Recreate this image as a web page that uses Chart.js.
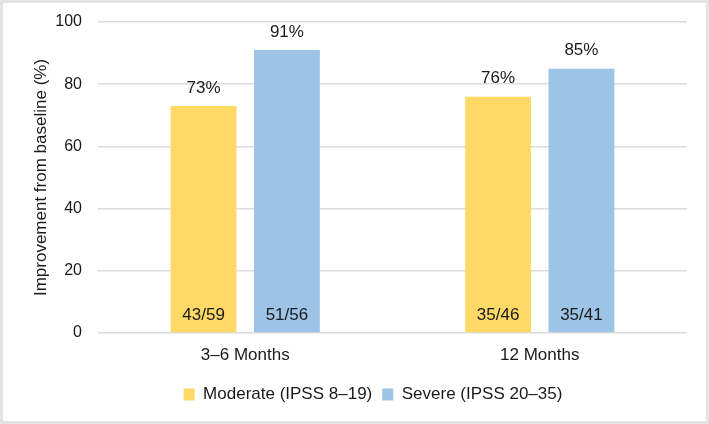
<!DOCTYPE html>
<html>
<head>
<meta charset="utf-8">
<script src="https://cdn.jsdelivr.net/npm/chart.js@4.4.0/dist/chart.umd.min.js"></script>
<style>
  html, body { margin: 0; padding: 0; background: #fff; }
  #wrap { width: 709px; height: 424px; box-sizing: border-box; border: 3px solid #e3e3e3; background: #fff; }
  #chart { display: block; }
</style>
</head>
<body>
<div id="wrap"><canvas id="chart" width="703" height="418"></canvas></div>
<script>
// data
const categories = ['3\u20136 Months', '12 Months'];
const moderateValues = [73, 76];
const severeValues = [91, 85];
const moderateCounts = ['43/59', '35/46'];
const severeCounts = ['51/56', '35/41'];
const yTicks = [0, 20, 40, 60, 80, 100];

const FONT = '"Liberation Sans", Arial, sans-serif';
const TEXT = '#1a1a1a';

// percentage above each bar, n/N at the bottom inside
const barLabels = {
  id: 'barLabels',
  afterDatasetsDraw(chart) {
    const ctx = chart.ctx;
    ctx.save();
    ctx.font = '17px ' + FONT;
    ctx.fillStyle = TEXT;
    ctx.textAlign = 'center';
    ctx.textBaseline = 'middle';
    chart.data.datasets.forEach((ds, di) => {
      chart.getDatasetMeta(di).data.forEach((bar, i) => {
        ctx.fillText(ds.data[i] + '%', bar.x, bar.y - 18);
        ctx.fillText(ds.counts[i], bar.x, bar.base - 17);
      });
    });
    ctx.restore();
  }
};

// legend in the original sits a bit right of the canvas centre
const legendShift = {
  id: 'legendShift',
  afterLayout(chart) {
    chart.legend.left += 28;
    chart.legend.right += 28;
  }
};

new Chart(document.getElementById('chart'), {
  type: 'bar',
  data: {
    labels: categories,
    datasets: [
      { label: 'Moderate (IPSS 8\u201319)', data: moderateValues, counts: moderateCounts, backgroundColor: '#ffd966' },
      { label: 'Severe (IPSS 20\u201335)', data: severeValues, counts: severeCounts, backgroundColor: '#9dc3e6' }
    ]
  },
  options: {
    responsive: false,
    animation: false,
    categoryPercentage: 0.566,
    barPercentage: 0.79,
    layout: { padding: { left: 0, right: 19, top: 19, bottom: 8 } },
    plugins: {
      legend: {
        position: 'bottom',
        labels: { boxWidth: 11, boxHeight: 12, padding: 10, color: TEXT, font: { family: FONT, size: 17 } }
      },
      tooltip: { enabled: false }
    },
    scales: {
      x: {
        grid: { display: false, drawTicks: false },
        border: { display: false },
        ticks: { color: TEXT, padding: 12, font: { family: FONT, size: 17 } },
        afterFit(s) { s.height = 43; }
      },
      y: {
        min: 0, max: 100,
        afterBuildTicks(s) { s.ticks = yTicks.map(v => ({ value: v })); },
        grid: { color: '#dcdcdc', lineWidth: 1.5, drawTicks: false },
        border: { display: false },
        ticks: { color: TEXT, padding: 16, font: { family: FONT, size: 16 } },
        title: { display: true, text: 'Improvement from baseline (%)', color: TEXT, font: { family: FONT, size: 17 }, padding: { top: 28, bottom: 0 } },
        afterFit(s) { s.width = 95; s.paddingTop = 0; s.paddingBottom = 0; }
      }
    }
  },
  plugins: [barLabels, legendShift]
});
</script>
</body>
</html>
